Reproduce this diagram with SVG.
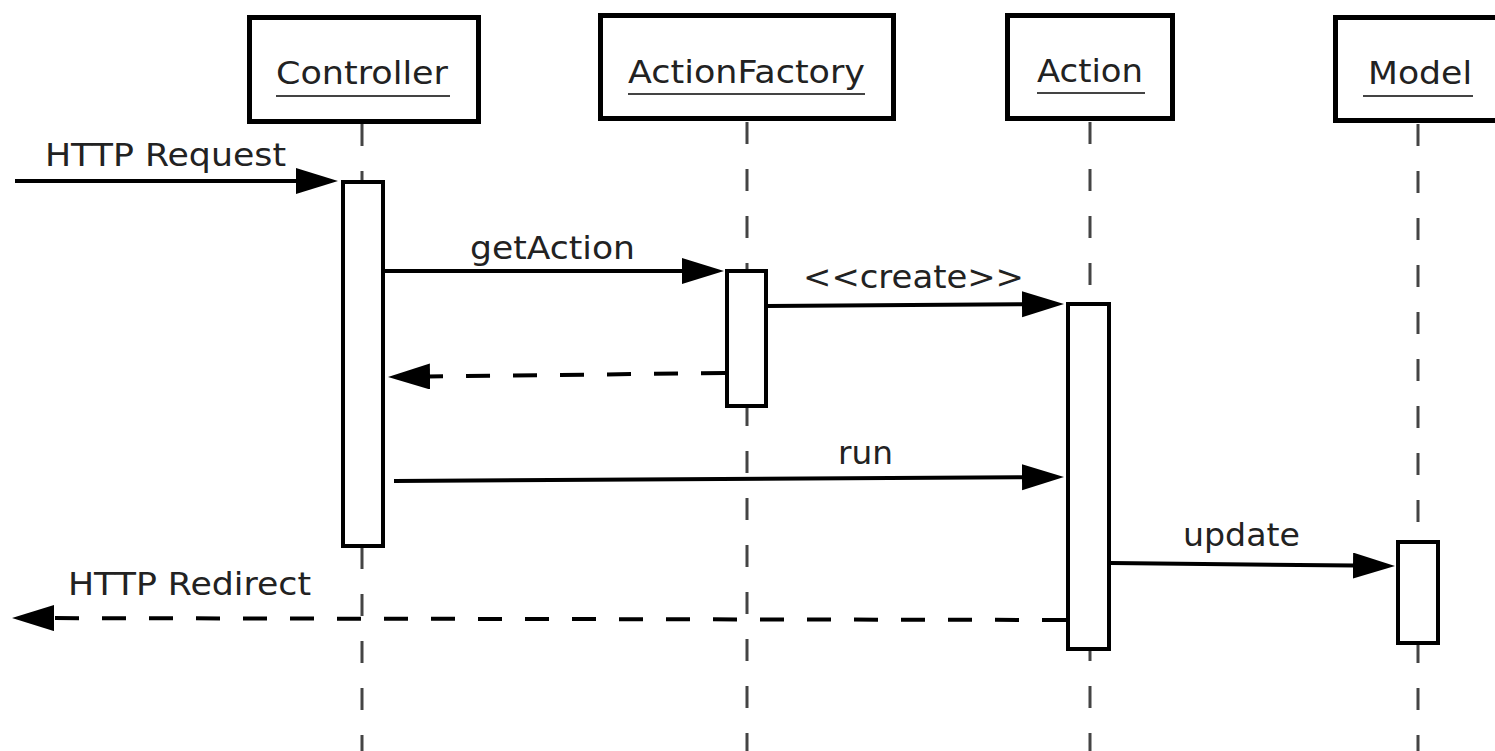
<svg xmlns="http://www.w3.org/2000/svg" width="1495" height="751" viewBox="0 0 1495 751">
  <style>
    .box { fill: #fff; stroke: #000; stroke-width: 5; }
    .act { fill: #fff; stroke: #000; stroke-width: 4; }
    .life { stroke: #444; stroke-width: 3; stroke-dasharray: 22 25; fill: none; }
    .msg { stroke: #000; stroke-width: 4; fill: none; marker-end: url(#head); }
    .ret { stroke-dasharray: 24 23; }
    .ul { stroke: #444; stroke-width: 2; }
    text { font-family: "DejaVu Sans", Verdana, sans-serif; font-size: 32px; fill: #222; }
    .c { text-anchor: middle; }
  </style>
  <defs>
    <marker id="head" markerUnits="userSpaceOnUse" markerWidth="44" markerHeight="28" refX="2" refY="13" orient="auto" viewBox="0 0 44 28">
      <path d="M0,0 L42,13 L0,26 Z" fill="#000"/>
    </marker>
  </defs>

  <!-- lifelines -->
  <g id="lifelines">
    <line class="life" x1="362" y1="124" x2="362" y2="751"/>
    <line class="life" x1="747" y1="122" x2="747" y2="751"/>
    <line class="life" x1="1090" y1="122" x2="1090" y2="751"/>
    <line class="life" x1="1418" y1="124" x2="1418" y2="751"/>
  </g>

  <!-- participants -->
  <g id="controller">
    <rect class="box" x="249.5" y="17.5" width="229" height="104"/>
    <text x="276" y="84" textLength="172" lengthAdjust="spacingAndGlyphs">Controller</text>
    <line class="ul" x1="276" y1="96" x2="450" y2="96"/>
    <rect class="act" x="343" y="182" width="40" height="364"/>
  </g>
  <g id="actionfactory">
    <rect class="box" x="600.5" y="15.5" width="293" height="103"/>
    <text x="628" y="83" textLength="237" lengthAdjust="spacingAndGlyphs">ActionFactory</text>
    <line class="ul" x1="628" y1="94" x2="865" y2="94"/>
    <rect class="act" x="727" y="271" width="39" height="135"/>
  </g>
  <g id="action">
    <rect class="box" x="1007.5" y="15.5" width="165" height="103"/>
    <text x="1037" y="82" textLength="106" lengthAdjust="spacingAndGlyphs">Action</text>
    <line class="ul" x1="1037" y1="93" x2="1145" y2="93"/>
    <rect class="act" x="1068" y="304" width="41" height="345"/>
  </g>
  <g id="model">
    <rect class="box" x="1335.5" y="17.5" width="200" height="103"/>
    <text x="1368" y="84" textLength="104" lengthAdjust="spacingAndGlyphs">Model</text>
    <line class="ul" x1="1363" y1="96" x2="1473" y2="96"/>
    <rect class="act" x="1398" y="542" width="40" height="101"/>
  </g>

  <!-- messages -->
  <g id="connectors">
    <line class="msg" x1="15" y1="181" x2="298" y2="181"/>
    <text x="45" y="166" textLength="241" lengthAdjust="spacingAndGlyphs">HTTP Request</text>

    <line class="msg" x1="385" y1="271" x2="684" y2="271"/>
    <text x="470" y="259" textLength="165" lengthAdjust="spacingAndGlyphs">getAction</text>

    <line class="msg" x1="768" y1="306" x2="1024" y2="304.3"/>
    <text x="803" y="288" textLength="221" lengthAdjust="spacingAndGlyphs">&lt;&lt;create&gt;&gt;</text>

    <line class="msg ret" x1="725" y1="373" x2="428" y2="376.5"/>

    <line class="msg" x1="394" y1="481" x2="1024" y2="477.2"/>
    <text x="838" y="464" textLength="55" lengthAdjust="spacingAndGlyphs">run</text>

    <line class="msg" x1="1111" y1="563" x2="1355" y2="565.6"/>
    <text x="1183" y="546" textLength="117" lengthAdjust="spacingAndGlyphs">update</text>

    <line class="msg ret" x1="1066" y1="620" x2="52" y2="618.1"/>
    <text x="68" y="595" textLength="243" lengthAdjust="spacingAndGlyphs">HTTP Redirect</text>
  </g>
</svg>
